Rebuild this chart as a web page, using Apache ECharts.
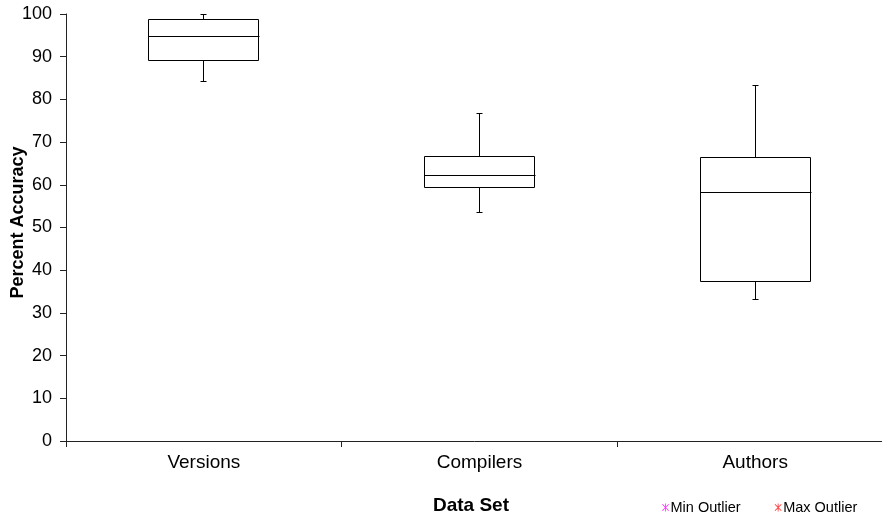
<!DOCTYPE html>
<html>
<head>
<meta charset="utf-8">
<script src="https://cdn.jsdelivr.net/npm/echarts@6/dist/echarts.min.js"></script>
<style>
    html, body { margin: 0; padding: 0; background: #fff; }
    #chart { width: 882px; height: 514px; }
</style>
</head>
<body>
<div id="chart"></div>
<script>
'use strict';

// 数据
let categories = ['Versions', 'Compilers', 'Authors'];
let minValues = [84.3, 53.7, 33.3];
let q1Values = [89.3, 59.6, 37.5];
let medianValues = [94.8, 62.4, 58.2];
let q3Values = [98.8, 66.8, 66.6];
let maxValues = [99.9, 76.9, 83.4];
let yTicks = [0, 10, 20, 30, 40, 50, 60, 70, 80, 90, 100];

let boxData = categories.map(function (c, i) {
    return [i, minValues[i], q1Values[i], medianValues[i], q3Values[i], maxValues[i]];
});

// 星号图标
let starIcon = 'path://M4.5,0L5.5,0L5.5,10L4.5,10Z M0.6,1.4L1.4,0.6L9.4,8.6L8.6,9.4Z M8.6,0.6L9.4,1.4L1.4,9.4L0.6,8.6Z';

//画箱子
function renderBox(params, api) {
    let idx = api.value(0);
    let pMin = api.coord([idx, api.value(1)]);
    let pQ1 = api.coord([idx, api.value(2)]);
    let pMed = api.coord([idx, api.value(3)]);
    let pQ3 = api.coord([idx, api.value(4)]);
    let pMax = api.coord([idx, api.value(5)]);
    let band = api.size([1, 0])[0];
    let half = band * 0.2;
    let cap = 3;
    let x = Math.floor(pQ1[0]) + 0.5;
    let st = {stroke: '#000', lineWidth: 1, fill: null};
    function r(v) { return Math.round(v) + 0.5; }
    return {
        type: 'group',
        children: [
            {type: 'line', shape: {x1: x, y1: r(pQ3[1]), x2: x, y2: r(pMax[1])}, style: st},
            {type: 'line', shape: {x1: x - cap, y1: r(pMax[1]), x2: x + cap, y2: r(pMax[1])}, style: st},
            {type: 'line', shape: {x1: x, y1: r(pQ1[1]), x2: x, y2: r(pMin[1])}, style: st},
            {type: 'line', shape: {x1: x - cap, y1: r(pMin[1]), x2: x + cap, y2: r(pMin[1])}, style: st},
            {
                type: 'rect',
                shape: {x: r(x - half), y: r(pQ3[1]), width: Math.round(half * 2), height: Math.round(pQ1[1] - pQ3[1])},
                style: {stroke: '#000', lineWidth: 1, fill: '#fff'}
            },
            {type: 'line', shape: {x1: r(x - half), y1: r(pMed[1]), x2: r(x + half), y2: r(pMed[1])}, style: st}
        ]
    };
}

let myChart = echarts.init(document.getElementById('chart'));

let option = {
    animation: false,
    textStyle: {fontFamily: 'Liberation Sans, Arial, sans-serif'},
    grid: {left: 66, top: 14, width: 827, height: 427, outerBoundsMode: 'none', containLabel: false},
    legend: {
        left: 657,
        top: 495,
        itemWidth: 8,
        itemHeight: 8,
        itemGap: 34,
        textStyle: {fontSize: 14.5, color: '#000', padding: [0, 0, 0, -4]},
        data: [
            {name: 'Min Outlier', icon: starIcon},
            {name: 'Max Outlier', icon: starIcon}
        ]
    },
    xAxis: {
        type: 'category',
        data: categories,
        name: 'Data Set',
        nameLocation: 'middle',
        nameGap: 55,
        nameMoveOverlap: false,
        nameTextStyle: {fontSize: 19, fontWeight: 'bold', color: '#000', padding: [0, 17, 0, 0]},
        axisLine: {lineStyle: {color: '#222', width: 1}},
        axisTick: {show: true, length: 6, lineStyle: {color: '#222'}},
        axisLabel: {fontSize: 19, color: '#000', margin: 12},
        splitLine: {show: false}
    },
    yAxis: {
        type: 'value',
        min: yTicks[0],
        max: yTicks[yTicks.length - 1],
        interval: 10,
        name: 'Percent Accuracy',
        nameLocation: 'middle',
        nameGap: 39,
        nameMoveOverlap: false,
        nameTextStyle: {fontSize: 18, fontWeight: 'bold', color: '#000', padding: [0, 0, 0, 10]},
        axisLine: {show: true, lineStyle: {color: '#222', width: 1}},
        axisTick: {show: true, length: 6, lineStyle: {color: '#222'}},
        axisLabel: {fontSize: 18, color: '#000', margin: 14},
        splitLine: {show: false}
    },
    series: [
        {
            type: 'custom',
            name: 'box',
            renderItem: renderBox,
            encode: {x: 0, y: [1, 2, 3, 4, 5]},
            data: boxData
        },
        {type: 'scatter', name: 'Min Outlier', data: [], itemStyle: {color: '#ff00ff'}},
        {type: 'scatter', name: 'Max Outlier', data: [], itemStyle: {color: '#ff0000'}}
    ]
};
myChart.setOption(option);
</script>
</body>
</html>
